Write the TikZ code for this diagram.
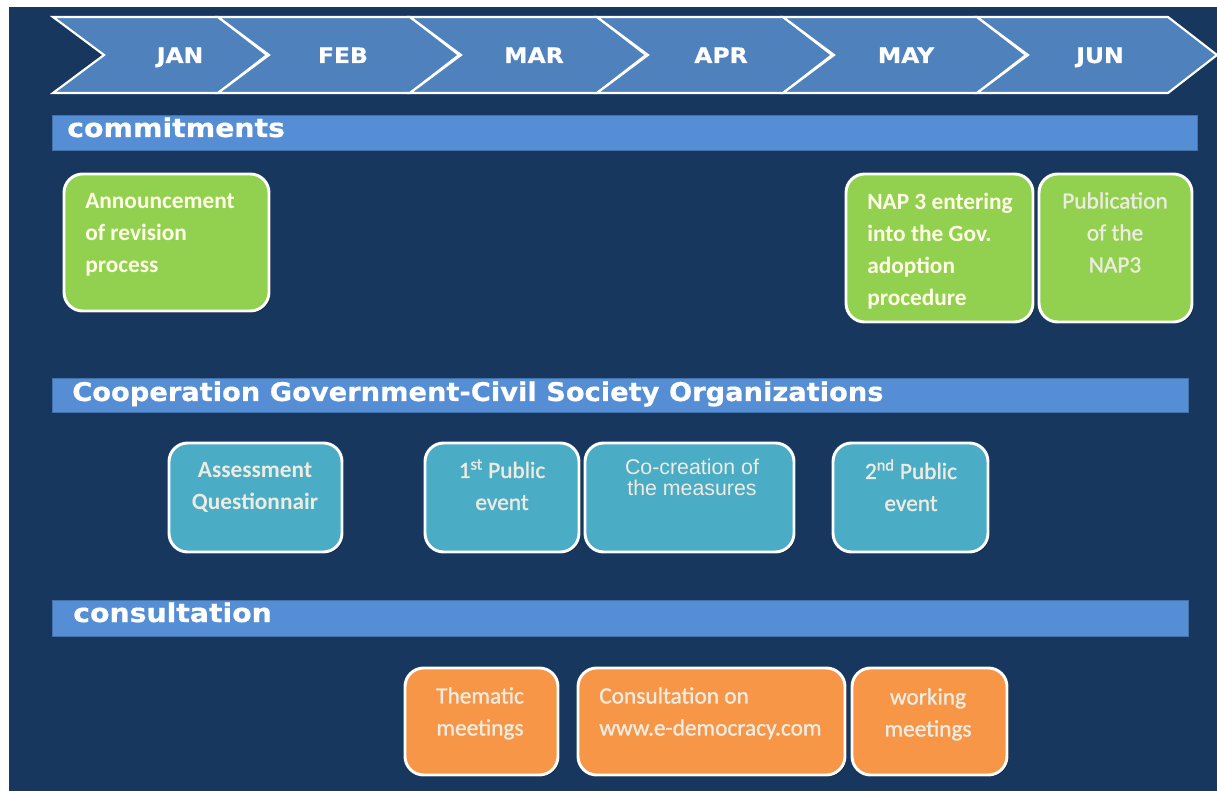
\documentclass[tikz,border=0pt]{standalone}
\usepackage{fontspec}
\newfontfamily\carlito{Carlito}
\newfontfamily\carlitomed[FakeBold=1.2]{Carlito}
\newfontfamily\dejawide[FakeStretch=1.1,FakeBold=0.6]{DejaVu Sans}
\newfontfamily\libsans{Liberation Sans}
\usetikzlibrary{shadows,fit}
\definecolor{bgnavy}{HTML}{17375E}
\definecolor{chev}{HTML}{4F81BD}
\definecolor{barblue}{HTML}{558ED5}
\definecolor{boxgreen}{HTML}{92D050}
\definecolor{boxblue}{HTML}{4BACC6}
\definecolor{boxorange}{HTML}{F79646}
\definecolor{creamA}{HTML}{FFFFE6}
\definecolor{creamB}{HTML}{EEECE1}
\tikzset{
  box/.style={draw=white, line width=2.2pt, rounded corners=14pt, inner sep=0pt,
    drop shadow={shadow xshift=1.2pt, shadow yshift=-1.2pt, opacity=0.5, fill=black}},
  gbox/.style={box, fill=boxgreen},
  bbox/.style={box, fill=boxblue},
  obox/.style={box, fill=boxorange},
  bar/.style={fill=barblue, draw=barblue!80!black, line width=0.5pt, inner sep=0pt},
  bartitle/.style={anchor=base west, inner sep=0pt, text=white, font=\dejawide\bfseries\fontsize{19.3}{22}\selectfont},
  month/.style={anchor=base, inner sep=0pt, text=white, font=\dejawide\bfseries\fontsize{16}{19}\selectfont},
  boxtxt/.style={inner sep=0pt, text=creamB, font=\carlitomed\fontsize{17.5}{24}\selectfont},
  boxtxtb/.style={inner sep=0pt, text=creamA, font=\carlito\bfseries\fontsize{17.5}{24}\selectfont},
  chevron/.style={fill=chev, draw=white, line width=1.6pt, line join=miter},
}
\begin{document}
\begin{tikzpicture}[x=0.75pt, y=-0.75pt]
\useasboundingbox (0,0) rectangle (1217,791);
\fill[white] (0,0) rectangle (1217,791);
\fill[bgnavy] (9,7) rectangle (1217,791);

% chevrons
\foreach \a/\b in {53/218, 218/410, 410/597, 597/783, 783/977, 977/1168}
  \draw[chevron] (\a,17) -- (\b,17) -- (\b+49,55) -- (\b,93) -- (\a,93) -- (\a+51,55) -- cycle;
\node[month] (jan) at (180,63) {JAN};
\node[month] (feb) at (343,63) {FEB};
\node[month] (mar) at (534,63) {MAR};
\node[month] (apr) at (721,63) {APR};
\node[month] (may) at (906,63) {MAY};
\node[month] (jun) at (1100,63) {JUN};

% bars
\node[bar, fit={(52,115) (1197,150)}] (barCommit) {};
\node[bartitle] (tCommit) at (67,137) {commitments};
\node[bar, fit={(52,378) (1188,412)}] (barCoop) {};
\node[bartitle] (tCoop) at (72,401) {\scalebox{0.964}[1]{Cooperation Government-Civil Society Organizations}};
\node[bar, fit={(52,600) (1188,636)}] (barCons) {};
\node[bartitle] (tCons) at (73,622) {consultation};

% commitments boxes
\node[gbox, fit={(64,174) (269,311)}] (ann) {};
\node[boxtxtb, anchor=north west, align=left] (annT) at (85,193) {Announcement\\of revision\\process};
\node[gbox, fit={(846,174) (1033,322)}] (nap) {};
\node[boxtxtb, anchor=north west, align=left] (napT) at (867,193) {NAP 3 entering\\into the Gov.\\adoption\\procedure};
\node[gbox, fit={(1039,174) (1192,322)}] (pub) {};
\node[boxtxt, anchor=north, align=center] (pubT) at (1115,192) {Publication\\of the\\NAP3};

% cooperation boxes
\node[bbox, fit={(169,443) (342,552)}] (ass) {};
\node[boxtxtb, text=creamB, anchor=north, align=center] (assT) at (255,462) {Assessment\\Questionnair};
\node[bbox, fit={(425,443) (579,552)}] (pubA) {};
\node[boxtxt, anchor=north, align=center] (pubAT) at (502,459) {1\textsuperscript{st} Public\\event};
\node[bbox, fit={(585,443) (794,552)}] (cocr) {};
\node[inner sep=0pt, text=creamB, font=\libsans\fontsize{16}{15.8}\selectfont, anchor=north, align=center] (cocrT) at (692,459) {Co-creation of\\the measures};
\node[bbox, fit={(833,443) (988,552)}] (pubB) {};
\node[boxtxt, anchor=north, align=center] (pubBT) at (911,459) {2\textsuperscript{nd} Public\\event};

% consultation boxes
\node[obox, fit={(405,668) (558,775)}] (them) {};
\node[boxtxt, anchor=north, align=center] (themT) at (480,687) {Thematic\\meetings};
\node[obox, fit={(578,668) (845,775)}] (cons) {};
\node[boxtxt, anchor=north west, align=left] (consT) at (599,687) {Consultation on\\www.e-democracy.com};
\node[obox, fit={(852,668) (1007,775)}] (work) {};
\node[boxtxt, anchor=north, align=center] (workT) at (928,688) {working\\meetings};
\end{tikzpicture}
\end{document}
